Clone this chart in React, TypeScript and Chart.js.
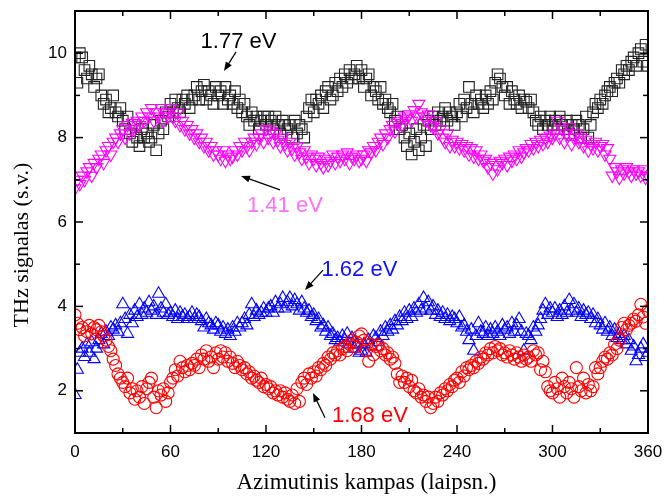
import { useEffect, useRef } from "react";
import { Chart, registerables } from "chart.js";
Chart.register(...registerables);

// Azimuthal angle (degrees)
const angles = [
  0, 1.5, 3, 4.5, 6, 7.5, 9, 10.5, 12, 13.5,
  15, 16.5, 18, 19.5, 21, 22.5, 24, 25.5, 27, 28.5,
  30, 31.5, 33, 34.5, 36, 37.5, 39, 40.5, 42, 43.5,
  45, 46.5, 48, 49.5, 51, 52.5, 54, 55.5, 57, 58.5,
  60, 61.5, 63, 64.5, 66, 67.5, 69, 70.5, 72, 73.5,
  75, 76.5, 78, 79.5, 81, 82.5, 84, 85.5, 87, 88.5,
  90, 91.5, 93, 94.5, 96, 97.5, 99, 100.5, 102, 103.5,
  105, 106.5, 108, 109.5, 111, 112.5, 114, 115.5, 117, 118.5,
  120, 121.5, 123, 124.5, 126, 127.5, 129, 130.5, 132, 133.5,
  135, 136.5, 138, 139.5, 141, 142.5, 144, 145.5, 147, 148.5,
  150, 151.5, 153, 154.5, 156, 157.5, 159, 160.5, 162, 163.5,
  165, 166.5, 168, 169.5, 171, 172.5, 174, 175.5, 177, 178.5,
  180, 181.5, 183, 184.5, 186, 187.5, 189, 190.5, 192, 193.5,
  195, 196.5, 198, 199.5, 201, 202.5, 204, 205.5, 207, 208.5,
  210, 211.5, 213, 214.5, 216, 217.5, 219, 220.5, 222, 223.5,
  225, 226.5, 228, 229.5, 231, 232.5, 234, 235.5, 237, 238.5,
  240, 241.5, 243, 244.5, 246, 247.5, 249, 250.5, 252, 253.5,
  255, 256.5, 258, 259.5, 261, 262.5, 264, 265.5, 267, 268.5,
  270, 271.5, 273, 274.5, 276, 277.5, 279, 280.5, 282, 283.5,
  285, 286.5, 288, 289.5, 291, 292.5, 294, 295.5, 297, 298.5,
  300, 301.5, 303, 304.5, 306, 307.5, 309, 310.5, 312, 313.5,
  315, 316.5, 318, 319.5, 321, 322.5, 324, 325.5, 327, 328.5,
  330, 331.5, 333, 334.5, 336, 337.5, 339, 340.5, 342, 343.5,
  345, 346.5, 348, 349.5, 351, 352.5, 354, 355.5, 357, 358.5,
  360,
];

// 1.77 eV (black squares)
const signal177 = [
  9.9, 9.3, 10.0, 9.9, 9.6, 9.4, 9.7, 9.5, 9.2, 9.4,
  9.5, 9.0, 8.8, 8.9, 8.6, 8.7, 9.0, 8.6, 8.5, 8.7,
  8.4, 8.2, 8.5, 8.1, 7.9, 8.3, 8.0, 7.8, 8.2, 8.0,
  8.1, 7.9, 8.0, 8.3, 7.7, 8.1, 8.4, 8.2, 8.6, 8.5,
  8.8, 8.6, 8.9, 8.7, 8.6, 8.9, 8.8, 9.0, 8.7, 8.9,
  9.0, 9.2, 8.9, 9.1, 9.25, 8.9, 9.1, 9.0, 8.8, 9.2,
  9.0, 9.1, 8.8, 9.2, 8.9, 9.0, 8.8, 9.1, 8.7, 8.9,
  8.6, 8.8, 8.5, 8.3, 8.6, 8.4, 8.5, 8.2, 8.4, 8.5,
  8.3, 8.5, 8.4, 8.2, 8.5, 8.3, 8.1, 8.4, 8.3, 8.2,
  8.3, 8.0, 8.4, 8.1, 8.3, 8.2, 8.0, 8.5, 8.7, 8.9,
  8.6, 8.9, 8.8, 9.0, 8.7, 9.1, 9.2, 8.9, 9.0, 9.3,
  9.1, 9.4, 9.2, 9.5, 9.3, 9.6, 9.4, 9.5, 9.7, 9.4,
  9.6, 9.2, 9.4, 9.5, 9.0, 9.2, 9.1, 8.9, 9.2, 8.8,
  8.9, 8.7, 8.6, 8.8, 8.4, 8.5, 8.2, 8.3, 8.0, 7.8,
  8.1, 7.6, 7.9, 8.2, 7.7, 8.0, 8.3, 7.8, 8.4, 8.2,
  8.5, 8.3, 8.6, 8.4, 8.5, 8.7, 8.4, 8.6, 8.5, 8.3,
  8.6, 8.8, 8.5, 8.9, 8.7, 9.2, 8.8, 8.6, 9.0, 8.8,
  8.9, 8.7, 9.0, 8.8, 9.1, 8.9, 9.3, 9.5, 9.4, 9.2,
  9.0, 9.2, 8.8, 9.1, 8.9, 8.8, 9.0, 8.7, 8.9, 8.85,
  8.7, 8.9, 8.6, 8.4, 8.3, 8.5, 8.2, 8.4, 8.3, 8.5,
  8.3, 8.4, 8.2, 8.5, 8.3, 8.2, 8.4, 8.1, 8.3, 8.2,
  8.4, 8.3, 8.0, 8.2, 8.5, 8.0, 8.3, 8.6, 8.8, 8.7,
  8.9, 8.8, 9.0, 9.1, 9.2, 9.1, 9.3, 9.4, 9.3, 9.6,
  9.5, 9.7, 9.6, 9.8, 9.9, 9.7, 10.0, 10.1, 9.8, 10.2,
  9.7,
];

// 1.41 eV (magenta inverted triangles)
const signal141 = [
  6.8, 7.0, 6.9, 7.1, 7.0, 7.2, 7.3, 7.1, 7.4, 7.3,
  7.5, 7.6, 7.4, 7.7, 7.8, 7.6, 7.9, 8.0, 7.9, 8.1,
  8.2, 8.0, 8.3, 8.1, 8.35, 8.2, 8.4, 8.3, 8.5, 8.4,
  8.6, 8.5, 8.7, 8.4, 8.6, 8.5, 8.7, 8.4, 8.6, 8.5,
  8.7, 8.5, 8.4, 8.6, 8.3, 8.4, 8.2, 8.3, 8.1, 8.2,
  8.0, 8.1, 7.9, 8.0, 7.8, 7.9, 7.7, 7.8, 7.6, 7.7,
  7.6, 7.5, 7.7, 7.45, 7.6, 7.5, 7.55, 7.7, 7.6, 7.8,
  7.7, 7.9, 7.8, 7.7, 7.9, 8.0, 7.85, 8.0, 8.1, 7.9,
  8.2, 8.0, 8.15, 7.9, 8.1, 7.95, 7.8, 8.0, 7.85, 7.7,
  7.9, 7.75, 7.6, 7.8, 7.65, 7.5, 7.7, 7.55, 7.4, 7.6,
  7.5, 7.35, 7.55, 7.4, 7.3, 7.5, 7.35, 7.45, 7.6, 7.4,
  7.55, 7.45, 7.6, 7.5, 7.65, 7.4, 7.55, 7.5, 7.6, 7.45,
  7.5, 7.6, 7.45, 7.7, 7.65, 7.8, 7.7, 7.9, 8.0, 7.85,
  8.1, 8.0, 8.2, 8.3, 8.15, 8.35, 8.4, 8.3, 8.5, 8.45,
  8.55, 8.4, 8.65, 8.5, 8.8, 8.6, 8.5, 8.4, 8.55, 8.3,
  8.25, 8.4, 8.1, 8.2, 8.0, 7.9, 8.1, 7.8, 7.95, 7.8,
  7.9, 7.75, 7.85, 7.7, 7.8, 7.6, 7.75, 7.55, 7.7, 7.5,
  7.6, 7.45, 7.5, 7.3, 7.4, 7.15, 7.35, 7.25, 7.45, 7.4,
  7.5, 7.35, 7.55, 7.45, 7.6, 7.5, 7.7, 7.55, 7.65, 7.75,
  7.7, 7.85, 7.75, 7.9, 7.8, 7.95, 7.85, 8.0, 7.9, 8.05,
  8.0, 8.1, 8.4, 8.0, 8.2, 7.9, 8.1, 8.25, 7.85, 8.0,
  8.1, 7.9, 8.0, 7.8, 7.95, 7.7, 7.85, 7.75, 7.9, 7.7,
  7.8, 7.85, 7.6, 7.75, 7.5, 7.1, 7.3, 7.2, 7.05, 7.25,
  7.15, 7.3, 7.2, 7.1, 7.25, 7.15, 7.2, 7.1, 7.25, 7.05,
  7.1,
];

// 1.62 eV (blue triangles)
const signal162 = [
  1.9, 2.5, 2.9, 3.0, 2.8, 3.1, 2.9, 3.15, 2.75, 3.0,
  3.2, 3.35, 3.1, 3.4, 3.3, 3.5, 3.45, 3.55, 3.4, 3.6,
  4.05, 3.7, 3.35, 3.8, 3.6, 3.9, 3.75, 4.05, 3.8, 3.95,
  3.85, 4.1, 3.9, 4.0, 3.8, 4.3, 3.95, 3.85, 4.05, 3.8,
  3.85, 3.75, 3.9, 3.7, 3.85, 3.75, 3.8, 3.7, 3.75, 3.85,
  3.7, 3.8, 3.75, 3.65, 3.5, 3.7, 3.6, 3.55, 3.45, 3.6,
  3.55, 3.4, 3.5, 3.35, 3.45, 3.3, 3.5, 3.4, 3.6, 3.5,
  3.6, 3.7, 3.55, 3.8, 4.05, 3.75, 3.9, 3.8, 3.85, 3.95,
  3.85, 3.95, 4.0, 3.85, 4.1, 3.95, 4.05, 4.2, 3.95, 4.1,
  4.2, 4.0, 4.15, 4.05, 3.9, 4.1, 3.95, 3.85, 3.9, 3.75,
  3.8, 3.65, 3.7, 3.5, 3.55, 3.4, 3.5, 3.3, 3.35, 3.2,
  3.25, 3.15, 3.3, 3.2, 3.35, 3.1, 3.25, 3.0, 3.1, 2.9,
  2.95, 3.1, 2.9, 3.2, 3.05, 3.3, 3.25, 3.15, 3.4, 3.3,
  3.5, 3.4, 3.55, 3.45, 3.65, 3.55, 3.75, 3.65, 3.85, 3.7,
  3.9, 3.75, 3.95, 3.85, 4.05, 3.9, 4.2, 3.95, 4.1, 3.9,
  4.0, 3.8, 3.9, 3.75, 3.85, 3.7, 3.8, 3.65, 3.75, 3.7,
  3.6, 3.75, 3.5, 3.55, 3.4, 3.2, 3.45, 2.95, 3.3, 3.6,
  3.4, 3.35, 3.5, 3.3, 3.45, 3.35, 3.5, 3.4, 3.3, 3.55,
  3.45, 3.5, 3.35, 3.6, 3.4, 3.55, 3.7, 3.4, 2.95, 3.35,
  3.3, 3.2, 3.5, 3.4, 3.55, 3.7, 3.9, 4.05, 3.8, 3.95,
  3.85, 3.95, 3.75, 3.9, 3.8, 4.0, 3.85, 4.15, 3.9, 4.05,
  3.85, 3.95, 3.75, 3.9, 3.8, 3.85, 3.7, 3.8, 3.6, 3.7,
  3.55, 3.45, 3.6, 3.4, 3.5, 3.3, 3.45, 3.25, 3.35, 3.2,
  3.3, 3.1, 3.2, 2.95, 3.05, 2.7, 2.85, 3.0, 3.1, 2.8,
  2.9,
];

// 1.68 eV (red circles)
const signal168 = [
  3.8, 3.6, 3.45, 3.5, 3.3, 3.4, 3.55, 3.35, 3.5, 3.45,
  3.55, 3.4, 3.3, 3.2, 3.05, 2.95, 2.75, 2.6, 2.4, 2.3,
  2.2, 2.1, 2.3, 1.95, 2.05, 1.8, 2.0, 1.85, 2.1, 1.7,
  2.05, 2.2, 2.3, 1.85, 1.6, 2.0, 1.9, 2.05, 1.75, 1.95,
  2.2, 2.3, 2.5, 2.35, 2.7, 2.55, 2.45, 2.6, 2.5, 2.65,
  2.6, 2.75, 2.55, 2.85, 2.75, 2.95, 2.7, 2.8, 2.55, 2.9,
  2.75, 2.95, 2.8, 2.9, 2.7, 2.8, 2.65, 2.55, 2.7, 2.6,
  2.5, 2.55, 2.4, 2.45, 2.3, 2.35, 2.25, 2.2, 2.3, 2.1,
  2.15, 2.05, 2.1, 1.95, 2.0, 1.9, 2.0, 1.85, 1.95, 1.8,
  1.75, 1.9, 1.7, 2.05, 1.75, 2.2, 2.3, 2.15, 2.4, 2.3,
  2.45, 2.35, 2.55, 2.5, 2.65, 2.6, 2.8, 2.75, 2.9, 2.85,
  2.95, 2.85, 3.0, 3.05, 2.95, 3.1, 3.2, 3.05, 3.15, 3.3,
  3.35, 3.2, 2.95, 2.7, 3.1, 2.85, 3.05, 3.1, 2.95, 3.0,
  2.85, 2.9, 2.75, 2.8, 2.65, 2.4, 2.2, 2.35, 2.2, 2.3,
  2.1, 2.25, 2.0, 1.95, 2.05, 1.85, 1.9, 1.75, 1.85, 1.6,
  1.7, 1.85, 1.75, 1.95, 1.9, 2.05, 2.0, 2.15, 2.1, 2.25,
  2.3, 2.2, 2.45, 2.35, 2.55, 2.5, 2.6, 2.55, 2.7, 2.65,
  2.8, 2.75, 2.9, 2.85, 3.0, 2.9, 3.05, 2.95, 3.0, 2.85,
  2.9, 2.8, 2.95, 2.85, 2.75, 2.9, 2.8, 2.7, 2.85, 2.75,
  2.8, 2.7, 2.95, 2.85, 2.9, 2.5, 2.7, 2.45, 2.1, 2.0,
  1.95, 2.2, 2.05, 1.85, 2.3, 2.1, 1.95, 2.2, 2.05, 1.85,
  2.55, 2.1, 2.0, 2.3, 1.95, 2.15, 2.0, 2.1, 2.55, 2.4,
  2.55, 2.7, 2.8, 2.75, 2.9, 2.85, 3.1, 3.0, 3.2, 3.5,
  3.6, 3.45, 3.55, 3.6, 3.7, 3.65, 3.8, 4.05, 3.75, 3.6,
  3.9,
];

const xTicks = [0, 60, 120, 180, 240, 300, 360];
const xMinorTicks = [30, 90, 150, 210, 270, 330];
const yTicks = [2, 4, 6, 8, 10];
const yMinorTicks = [3, 5, 7, 9];

const xTitle = "Azimutinis kampas (laipsn.)";
const yTitle = "THz signalas (s.v.)";

// Annotations: label text, colour, text centre and arrow (tail -> head) in data units
const annotationLabels = ["1.77 eV", "1.41 eV", "1.62 eV", "1.68 eV"];
const annotationColors = ["#000000", "#ff70ff", "#1010ff", "#ff0000"];
const annotationText = [
  [102.7, 10.27],
  [131.9, 6.38],
  [178.7, 4.86],
  [185.3, 1.4],
];
const annotationArrows = [
  [101.2, 10.03, 93.6, 9.58],
  [128.8, 6.76, 104.3, 7.09],
  [155.8, 4.86, 144.5, 4.39],
  [157.1, 1.36, 149.5, 1.95],
];

const toPoints = (ys: number[]) => angles.map((a, i) => ({ x: a, y: ys[i] }));

const framePlugin = {
  id: "framePlugin",
  afterDraw(chart: any) {
    const { ctx, chartArea } = chart;
    const xs = chart.scales.x;
    const ys = chart.scales.y;
    const { left, right, top, bottom } = chartArea;
    ctx.save();
    ctx.strokeStyle = "#000";
    ctx.lineWidth = 2;
    ctx.strokeRect(left, top, right - left, bottom - top);
    ctx.lineWidth = 1.5;
    const tick = (x1: number, y1: number, x2: number, y2: number) => {
      ctx.beginPath();
      ctx.moveTo(x1, y1);
      ctx.lineTo(x2, y2);
      ctx.stroke();
    };
    const major = 8;
    const minor = 5;
    xTicks.forEach((v) => {
      const px = xs.getPixelForValue(v);
      tick(px, bottom, px, bottom - major);
      tick(px, top, px, top + major);
    });
    xMinorTicks.forEach((v) => {
      const px = xs.getPixelForValue(v);
      tick(px, bottom, px, bottom - minor);
      tick(px, top, px, top + minor);
    });
    yTicks.forEach((v) => {
      const py = ys.getPixelForValue(v);
      tick(left, py, left + major, py);
      tick(right, py, right - major, py);
    });
    yMinorTicks.forEach((v) => {
      const py = ys.getPixelForValue(v);
      tick(left, py, left + minor, py);
      tick(right, py, right - minor, py);
    });

    // axis titles
    ctx.fillStyle = "#000";
    ctx.textAlign = "center";
    ctx.textBaseline = "middle";
    ctx.font = '23px "Liberation Serif", "Times New Roman", serif';
    ctx.fillText(xTitle, (left + right) / 2 + 5, 483);
    ctx.font = '22px "Liberation Serif", "Times New Roman", serif';
    ctx.save();
    ctx.translate(22, (top + bottom) / 2 + 23);
    ctx.rotate(-Math.PI / 2);
    ctx.fillText(yTitle, 0, 0);
    ctx.restore();

    // annotations
    ctx.font = '22px "Liberation Sans", Arial, sans-serif';
    annotationLabels.forEach((label, i) => {
      const [tx, ty] = annotationText[i];
      ctx.fillStyle = annotationColors[i];
      ctx.fillText(label, xs.getPixelForValue(tx), ys.getPixelForValue(ty));
      const [ax1, ay1, ax2, ay2] = annotationArrows[i];
      const x1 = xs.getPixelForValue(ax1);
      const y1 = ys.getPixelForValue(ay1);
      const x2 = xs.getPixelForValue(ax2);
      const y2 = ys.getPixelForValue(ay2);
      const ang = Math.atan2(y2 - y1, x2 - x1);
      const hl = 9;
      const hw = 3.5;
      ctx.strokeStyle = "#000";
      ctx.fillStyle = "#000";
      ctx.lineWidth = 1.2;
      ctx.beginPath();
      ctx.moveTo(x1, y1);
      ctx.lineTo(x2 - Math.cos(ang) * hl * 0.8, y2 - Math.sin(ang) * hl * 0.8);
      ctx.stroke();
      const bx = x2 - Math.cos(ang) * hl;
      const by = y2 - Math.sin(ang) * hl;
      ctx.beginPath();
      ctx.moveTo(x2, y2);
      ctx.lineTo(bx + Math.sin(ang) * hw, by - Math.cos(ang) * hw);
      ctx.lineTo(bx - Math.sin(ang) * hw, by + Math.cos(ang) * hw);
      ctx.closePath();
      ctx.fill();
    });
    ctx.restore();
  },
};

export default function App() {
  const canvasRef = useRef<HTMLCanvasElement | null>(null);

  useEffect(() => {
    document.body.style.margin = "0";
    const canvas = canvasRef.current;
    if (!canvas) return;
    const transparent = "rgba(0,0,0,0)";
    const chart = new Chart(canvas, {
      type: "scatter",
      data: {
        datasets: [
          {
            label: "1.68 eV",
            data: toPoints(signal168),
            pointStyle: "circle",
            pointRadius: 6,
            pointBorderWidth: 1.1,
            borderColor: "#ff0000",
            backgroundColor: transparent,
          },
          {
            label: "1.62 eV",
            data: toPoints(signal162),
            pointStyle: "triangle",
            pointRadius: 7,
            pointBorderWidth: 1.1,
            borderColor: "#0000ff",
            backgroundColor: transparent,
          },
          {
            label: "1.41 eV",
            data: toPoints(signal141),
            pointStyle: "triangle",
            rotation: 180,
            pointRadius: 7,
            pointBorderWidth: 1.1,
            borderColor: "#ff00ff",
            backgroundColor: transparent,
          },
          {
            label: "1.77 eV",
            data: toPoints(signal177),
            pointStyle: "rect",
            pointRadius: 7.5,
            pointBorderWidth: 1.1,
            borderColor: "#222222",
            backgroundColor: transparent,
          },
        ],
      } as any,
      options: {
        animation: false,
        responsive: false,
        maintainAspectRatio: false,
        layout: { padding: { top: 11, right: 16, left: 0, bottom: 0 } },
        plugins: {
          legend: { display: false },
          tooltip: { enabled: false },
        },
        scales: {
          x: {
            type: "linear",
            min: 0,
            max: 360,
            afterBuildTicks: (scale: any) => {
              scale.ticks = xTicks.map((v) => ({ value: v }));
            },
            afterFit: (scale: any) => {
              scale.height = 65;
              scale.paddingLeft = 0;
              scale.paddingRight = 0;
            },
            grid: { display: false, drawTicks: false },
            border: { display: false },
            ticks: {
              color: "#000",
              padding: 9,
              maxRotation: 0,
              font: { family: '"Liberation Sans", Arial, sans-serif', size: 17 },
            },
          },
          y: {
            type: "linear",
            min: 1,
            max: 11,
            afterBuildTicks: (scale: any) => {
              scale.ticks = yTicks.map((v) => ({ value: v }));
            },
            afterFit: (scale: any) => {
              scale.width = 75;
              scale.paddingTop = 0;
              scale.paddingBottom = 0;
            },
            grid: { display: false, drawTicks: false },
            border: { display: false },
            ticks: {
              color: "#000",
              padding: 8,
              font: { family: '"Liberation Sans", Arial, sans-serif', size: 17 },
            },
          },
        },
      } as any,
      plugins: [framePlugin],
    });
    return () => chart.destroy();
  }, []);

  return (
    <div style={{ width: 664, height: 498, position: "relative" }}>
      <canvas ref={canvasRef} width={664} height={498} style={{ display: "block" }} />
    </div>
  );
}
